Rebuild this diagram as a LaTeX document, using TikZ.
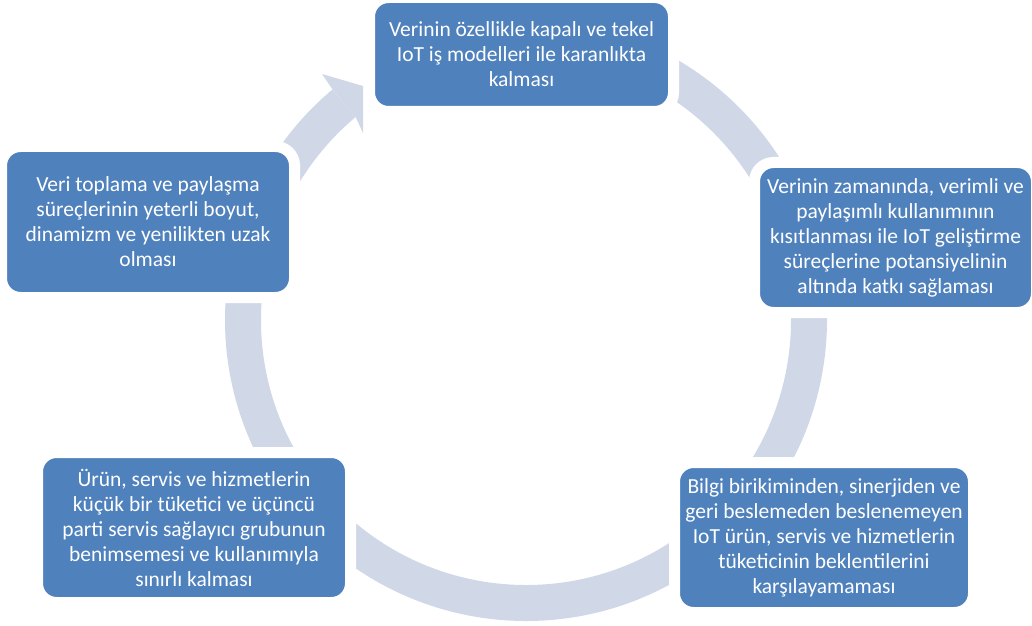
\documentclass[tikz,border=0pt]{standalone}
\usepackage{fontspec}
\setmainfont{Carlito}
\usetikzlibrary{calc}
\definecolor{boxblue}{HTML}{4F81BD}
\definecolor{ringblue}{HTML}{D0D8E8}
\tikzset{
  stage/.style={draw=white, line width=11pt, fill=boxblue, rounded corners=19pt,
    inner sep=0pt, align=center, text=white,
    font=\fontsize{21.5}{25}\selectfont},
  ringband/.style={draw=ringblue, line width=36pt},
}
\begin{document}
\begin{tikzpicture}[x=1pt,y=1pt]
\useasboundingbox (0,0) rectangle (1032,625);
\coordinate (C) at (526,305);

% circular band running behind the stages
\draw[ringband] ($(C)+(130:283)$) arc[start angle=130, end angle=460, radius=283];
% arrow head leading into the top stage
\fill[ringblue] ($(C)+(130:301)$) -- (322,551) -- (363,539) -- (363,492)
  -- ($(C)+(130:265)$) -- cycle;

% stages (sizes include the white halo, 5.5pt on each side)
\node[stage, minimum width=304pt, minimum height=114pt] (s1) at (521.5,570.5)
  {Verinin özellikle kapalı ve tekel\\IoT iş modelleri ile karanlıkta\\kalması};
\node[stage, minimum width=282pt, minimum height=150pt] (s2) at (895.5,387.5)
  {Verinin zamanında, verimli ve\\paylaşımlı kullanımının\\kısıtlanması ile IoT geliştirme\\süreçlerine potansiyelinin\\altında katkı sağlaması};
\node[stage, minimum width=299pt, minimum height=150pt] (s3) at (824,87.5)
  {Bilgi birikiminden, sinerjiden ve\\geri beslemeden beslenemeyen\\IoT ürün, servis ve hizmetlerin\\tüketicinin beklentilerini\\karşılayamaması};
\node[stage, minimum width=313pt, minimum height=150pt] (s4) at (194,97.5)
  {Ürün, servis ve hizmetlerin\\küçük bir tüketici ve üçüncü\\parti servis sağlayıcı grubunun\\benimsemesi ve kullanımıyla\\sınırlı kalması};
\node[stage, minimum width=293pt, minimum height=151pt] (s5) at (148,403)
  {Veri toplama ve paylaşma\\süreçlerinin yeterli boyut,\\dinamizm ve yenilikten uzak\\olması};
\end{tikzpicture}
\end{document}
